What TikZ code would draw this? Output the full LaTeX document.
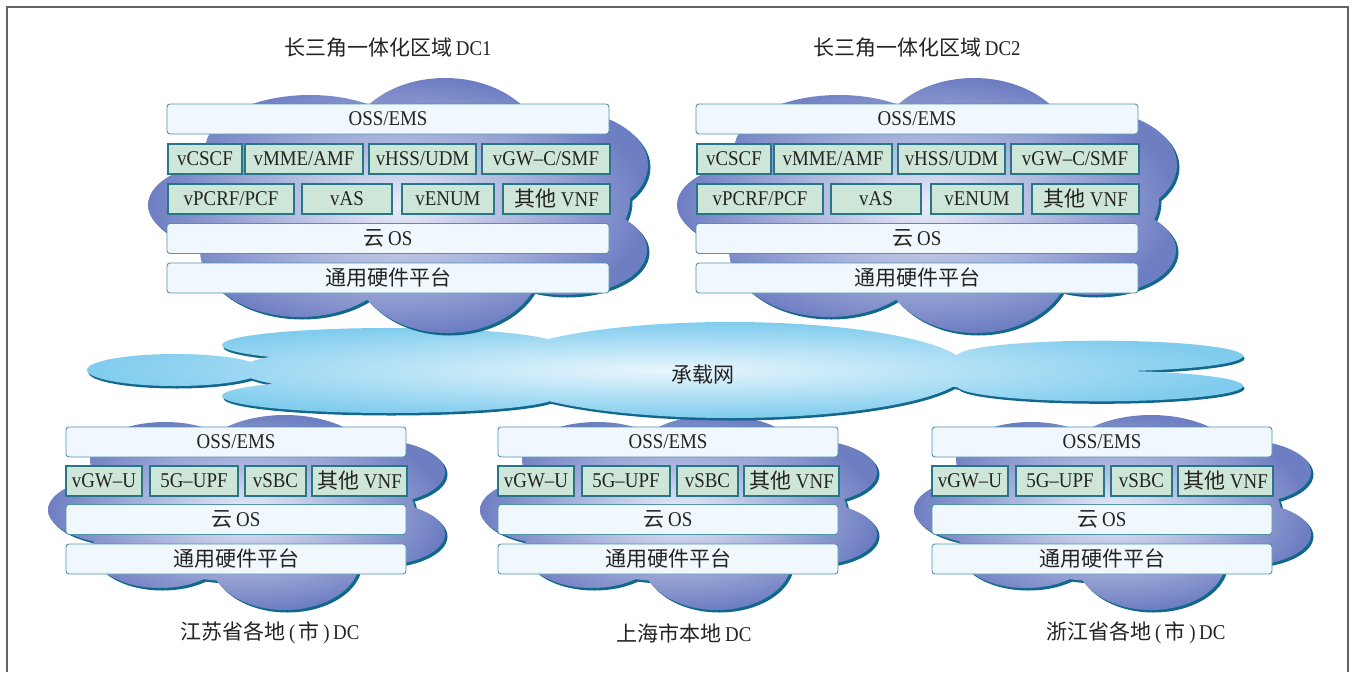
\documentclass[tikz,border=0pt]{standalone}
\usepackage{fontspec}
\setmainfont{Liberation Serif}[FakeStretch=0.9]
\newfontfamily\cjk{Noto Sans CJK SC}
\definecolor{bin}{RGB}{234,237,249}
\definecolor{bout}{RGB}{110,126,194}
\definecolor{sin}{RGB}{232,246,253}
\definecolor{sout}{RGB}{128,204,238}
\definecolor{cshadow}{RGB}{18,104,140}
\definecolor{barfill}{RGB}{240,248,253}
\definecolor{barline}{RGB}{80,148,168}
\definecolor{vnffill}{RGB}{206,230,216}
\definecolor{vnfline}{RGB}{40,118,138}
\definecolor{txt}{RGB}{35,35,35}
\definecolor{frame}{RGB}{100,100,100}
\newcommand\topcloudpath{(240,205) ellipse [x radius=92pt, y radius=45pt]
 (310,150) ellipse [x radius=105pt, y radius=55pt]
 (445,150) ellipse [x radius=98pt, y radius=72pt]
 (560,165) ellipse [x radius=88pt, y radius=55pt]
 (565,250) ellipse [x radius=82pt, y radius=45pt]
 (447,260) ellipse [x radius=95pt, y radius=73pt]
 (300,250) ellipse [x radius=100pt, y radius=67pt]
 (410,200) ellipse [x radius=220pt, y radius=95pt]}
\newcommand\botcloudpath{(130,510) ellipse [x radius=82pt, y radius=35pt]
 (165,460) ellipse [x radius=75pt, y radius=38pt]
 (285,465) ellipse [x radius=90pt, y radius=50pt]
 (375,472) ellipse [x radius=70pt, y radius=32pt]
 (375,534) ellipse [x radius=70pt, y radius=32pt]
 (285,560) ellipse [x radius=75pt, y radius=50pt]
 (160,550) ellipse [x radius=68pt, y radius=38pt]
 (250,512) ellipse [x radius=165pt, y radius=70pt]}
\newcommand\midcloudpath{(175,370) ellipse [x radius=88pt, y radius=16pt]
 (390,345) ellipse [x radius=168pt, y radius=17pt]
 (390,396) ellipse [x radius=168pt, y radius=17pt]
 (390,370) ellipse [x radius=150pt, y radius=22pt]
 (730,370) ellipse [x radius=238pt, y radius=48pt]
 (1000,371) ellipse [x radius=75pt, y radius=20pt]
 (1100,356) ellipse [x radius=143pt, y radius=15.3pt]
 (1100,386) ellipse [x radius=143pt, y radius=15.3pt]}
\newcommand\topdccloud[1]{%
\begin{scope}[shift={(#1,0)}]
\fill[cshadow,shift={(2.5,2.5)}] \topcloudpath;
\shade[inner color=bin, outer color=bout] \topcloudpath;
\end{scope}}
\newcommand\topdc[3]{%
\begin{scope}[shift={(#2,0)}]
\node[lbl] (#1t) at (388,48) {#3};
\node[bar] (#1oss) at (388,119) {OSS/EMS};
\node[vnf, minimum width=74] (#1a) at (205,159) {vCSCF};
\node[vnf, minimum width=118] (#1b) at (304,159) {vMME/AMF};
\node[vnf, minimum width=107] (#1c) at (422.5,159) {vHSS/UDM};
\node[vnf, minimum width=128] (#1d) at (546,159) {vGW--C/SMF};
\node[vnf, minimum width=126] (#1e) at (231,199) {vPCRF/PCF};
\node[vnf, minimum width=90] (#1f) at (347,199) {vAS};
\node[vnf, minimum width=92] (#1g) at (448,199) {vENUM};
\node[vnf, minimum width=107] (#1h) at (556.5,199) {{\cjk 其他} VNF};
\node[bar] (#1os) at (388,238.5) {{\cjk 云}\,OS};
\node[bar] (#1hw) at (388,278) {\cjk 通用硬件平台};
\end{scope}}
\newcommand\botdc[4]{%
\begin{scope}[shift={(#2,0)}]
\fill[cshadow,shift={(2.5,2.5)}] \botcloudpath;
\shade[inner color=bin, outer color=bout] \botcloudpath;
\node[bar, minimum width=340] (#1oss) at (236,442) {OSS/EMS};
\node[vnf, minimum width=76] (#1a) at (104,481) {vGW--U};
\node[vnf, minimum width=88] (#1b) at (194,481) {5G--UPF};
\node[vnf, minimum width=61] (#1c) at (275.5,481) {vSBC};
\node[vnf, minimum width=95] (#1d) at (359.5,481) {{\cjk 其他} VNF};
\node[bar, minimum width=340] (#1os) at (236,519.5) {{\cjk 云}\,OS};
\node[bar, minimum width=340] (#1hw) at (236,559) {\cjk 通用硬件平台};
\node[lbl] (#1t) at (#3,633) {#4};
\end{scope}}
\begin{document}
\begin{tikzpicture}[x=1pt,y=-1pt,
  every node/.style={font=\fontsize{21}{24}\selectfont, text=txt, inner sep=0pt},
  bar/.style={draw=barline, fill=barfill, line width=0.9pt, rounded corners=3pt,
    minimum width=442pt, minimum height=30pt},
  vnf/.style={draw=vnfline, fill=vnffill, line width=1.1pt, minimum height=30pt},
  lbl/.style={}]
\useasboundingbox (0,0) rectangle (1352,672);
\fill[white] (0,0) rectangle (1352,672);
\draw[frame, line width=2pt] (7,672) -- (7,7) -- (1348,7) -- (1348,672);
\botdc{js}{0}{270}{{\cjk 江苏省各地}\,(\,{\cjk 市}\,)\,DC}
\botdc{sh}{432}{252}{{\cjk 上海市本地}\,DC}
\botdc{zj}{866}{270}{{\cjk 浙江省各地}\,(\,{\cjk 市}\,)\,DC}
\fill[cshadow,shift={(1.5,2.5)}] \midcloudpath;
\shade[inner color=sin, outer color=sout] \midcloudpath;
\node (net) at (703,375) {\cjk 承载网};
\topdccloud{0}
\topdccloud{529}
\topdc{l}{0}{{\cjk 长三角一体化区域}\,DC1}
\topdc{r}{529}{{\cjk 长三角一体化区域}\,DC2}
\end{tikzpicture}
\end{document}
